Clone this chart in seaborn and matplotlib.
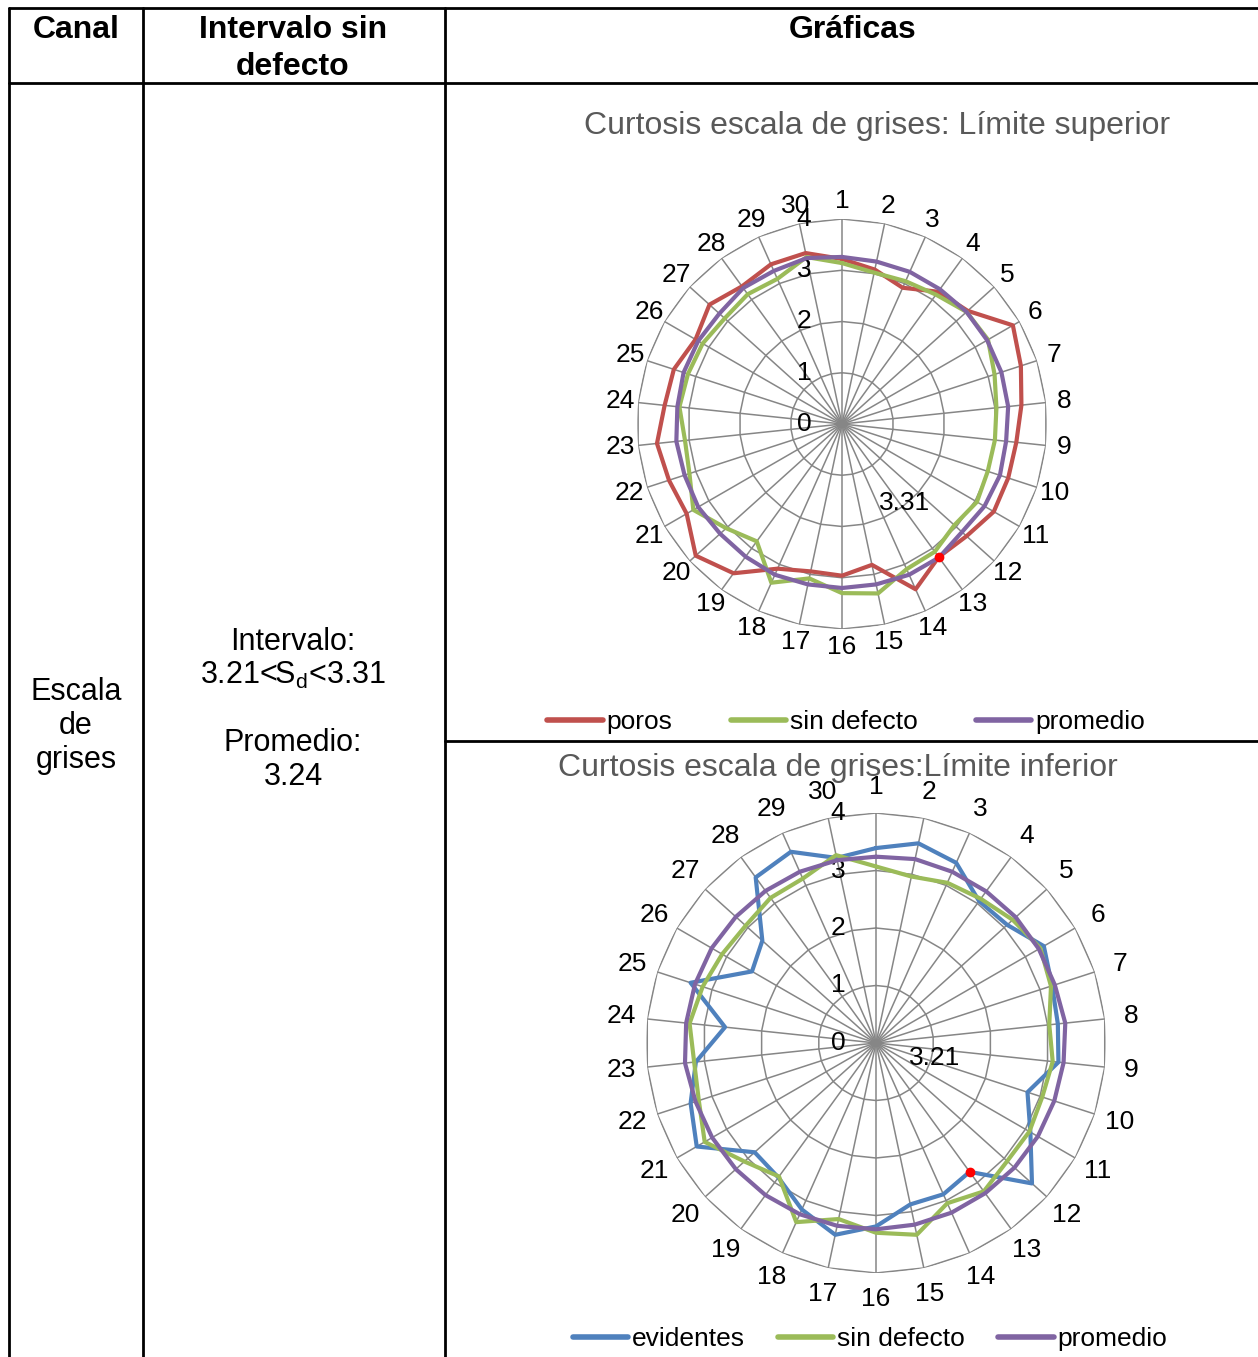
import numpy as np
import pandas as pd
import seaborn as sns
import matplotlib.pyplot as plt
from matplotlib import transforms

# -----------------------------
# Data
# -----------------------------
puntos = list(range(1, 31))

sup_poros = [3.22, 3.08, 2.91, 3.19, 3.30, 3.85, 3.67, 3.52, 3.42, 3.41,
             3.42, 3.27, 3.21, 3.53, 2.81, 2.96, 2.94, 3.09, 3.60, 3.84,
             3.50, 3.55, 3.63, 3.48, 3.45, 3.30, 3.48, 3.32, 3.41, 3.41]
sup_sin_defecto = [3.14, 3.02, 3.05, 3.12, 3.27, 3.29, 3.13, 3.03, 3.00, 2.99,
                   3.04, 2.95, 3.08, 3.10, 3.38, 3.30, 3.08, 3.39, 2.83, 3.04,
                   3.35, 3.13, 3.08, 3.19, 3.16, 3.14, 3.08, 3.13, 3.10, 3.33]
sup_promedio = [3.26, 3.24, 3.25, 3.25, 3.27, 3.27, 3.27, 3.26, 3.22, 3.24,
                3.21, 3.15, 3.22, 3.22, 3.20, 3.20, 3.20, 3.22, 3.20, 3.20,
                3.24, 3.23, 3.25, 3.23, 3.25, 3.24, 3.22, 3.28, 3.27, 3.31]

inf_evidentes = [3.39, 3.55, 3.43, 3.05, 3.07, 3.37, 3.22, 3.18, 3.19, 2.77,
                 3.10, 3.65, 2.77, 2.88, 2.87, 3.19, 3.41, 3.17, 2.89, 2.84,
                 3.60, 3.39, 3.15, 2.64, 3.39, 2.49, 2.66, 3.56, 3.64, 3.29]
inf_sin_defecto = [3.07, 2.96, 3.05, 3.10, 3.20, 3.30, 3.20, 3.03, 3.09, 3.04,
                   3.08, 3.07, 3.19, 3.05, 3.41, 3.30, 3.13, 3.41, 2.87, 3.08,
                   3.44, 3.24, 3.18, 3.26, 3.17, 3.09, 3.05, 3.12, 3.13, 3.34]
inf_promedio = [3.24, 3.27, 3.26, 3.26, 3.27, 3.27, 3.27, 3.31, 3.28, 3.26,
                3.25, 3.24, 3.23, 3.23, 3.23, 3.24, 3.25, 3.26, 3.27, 3.28,
                3.29, 3.30, 3.34, 3.32, 3.31, 3.30, 3.28, 3.27, 3.26, 3.25]

radial_ticks = [0, 1, 2, 3, 4]
marca_idx = 12  # punto 13 marcado en rojo

ROJO, VERDE, MORADO, AZUL = "#C0504D", "#9BBB59", "#8064A2", "#4F81BD"
GRIS = "#868686"

sns.set_style("white")
plt.rcParams["font.family"] = ["Liberation Sans", "DejaVu Sans"]
plt.rcParams["text.color"] = "black"
plt.rcParams["xtick.color"] = "black"
plt.rcParams["ytick.color"] = "black"

W, H = 1258, 1357
fig = plt.figure(figsize=(W / 100, H / 100), dpi=100)

# background axes in pixel coordinates for the table
bg = fig.add_axes([0, 0, 1, 1])
bg.set_xlim(0, W)
bg.set_ylim(H, 0)
bg.axis("off")

lw_tab = 2.0
for x in [9, 143, 445]:
    bg.plot([x, x], [8, H], color="black", lw=lw_tab)
bg.plot([9, W], [8, 8], color="black", lw=lw_tab)
bg.plot([9, W], [83, 83], color="black", lw=lw_tab)
bg.plot([445, W], [741, 741], color="black", lw=lw_tab)

bg.text(76, 30, "Canal", ha="center", va="center", fontsize=23, fontweight="bold")
bg.text(293, 30, "Intervalo sin", ha="center", va="center", fontsize=23, fontweight="bold")
bg.text(293, 67, "defecto", ha="center", va="center", fontsize=23, fontweight="bold")
bg.text(853, 30, "Gráficas", ha="center", va="center", fontsize=23, fontweight="bold")

for y, t in zip([692, 726, 760], ["Escala", "de", "grises"]):
    bg.text(76, y, t, ha="center", va="center", fontsize=22)
bg.text(293, 642, "Intervalo:", ha="center", va="center", fontsize=22)
bg.text(293, 675, r"3.21<S$_\mathregular{d}$<3.31", ha="center", va="center", fontsize=22)
bg.text(293, 743, "Promedio:", ha="center", va="center", fontsize=22)
bg.text(293, 777, "3.24", ha="center", va="center", fontsize=22)

bg.text(877, 126, "Curtosis escala de grises: Límite superior", ha="center", va="center",
        fontsize=23, color="#595959")
bg.text(838, 768, "Curtosis escala de grises:Límite inferior", ha="center", va="center",
        fontsize=23, color="#595959")

angles = np.deg2rad(np.arange(30) * 12.0)


def radar(cx, cy, rad, series, etiqueta_lim, lim_off, leg_xy, colspace, pad):
    ax = fig.add_axes([(cx - rad) / W, 1 - (cy + rad) / H, 2 * rad / W, 2 * rad / H],
                      projection="polar")
    ax.set_theta_zero_location("N")
    ax.set_theta_direction(-1)
    ax.set_ylim(0, 4)
    ax.grid(False)
    ax.spines["polar"].set_visible(False)
    ax.set_yticks([])
    ax.set_xticks(angles)
    ax.set_xticklabels([str(p) for p in puntos], fontsize=19)
    ax.tick_params(axis="x", pad=pad, length=0)
    ax.patch.set_alpha(0)

    # polygonal rings and spokes
    th_closed = np.append(angles, angles[0])
    for r in radial_ticks[1:]:
        ax.plot(th_closed, np.full(len(th_closed), r), color=GRIS, lw=1.1, zorder=1)
    for a in angles:
        ax.plot([a, a], [0, 4], color=GRIS, lw=1.1, zorder=1)

    off = transforms.offset_copy(ax.transData, fig=fig, x=-22, y=0, units="points")
    for r in radial_ticks:
        ax.text(0, r, str(r), transform=off, ha="right", va="center", fontsize=19)

    handles = []
    for nombre, vals, color in series:
        df = pd.DataFrame({"theta": np.append(angles, angles[0]),
                           "valor": vals + vals[:1]})
        sns.lineplot(data=df, x="theta", y="valor", sort=False, estimator=None,
                     color=color, lw=3.0, ax=ax, zorder=3, label=nombre, legend=False)
        handles.append(plt.Line2D([], [], color=color, lw=4, solid_capstyle="round"))

    first = series[0][1]
    ax.plot([angles[marca_idx]], [first[marca_idx]], "o", color="red", ms=6, zorder=5)
    ax.text(0, 0, etiqueta_lim, fontsize=19, ha="center", va="center",
            transform=transforms.offset_copy(ax.transData, fig=fig, x=lim_off[0],
                                             y=lim_off[1], units="points"))
    ax.set_xlabel("")
    ax.set_ylabel("")

    fig.legend(handles, [s[0] for s in series], loc="center",
               bbox_to_anchor=(leg_xy[0] / W, 1 - leg_xy[1] / H),
               ncol=3, frameon=False, fontsize=19, handlelength=2.1,
               handletextpad=0.15, columnspacing=colspace)
    return ax


radar(842, 424, 205,
      [("poros", sup_poros, ROJO), ("sin defecto", sup_sin_defecto, VERDE),
       ("promedio", sup_promedio, MORADO)],
      "3.31", (45, -57), (846, 722), 2.2, 6)

radar(876, 1043, 230,
      [("evidentes", inf_evidentes, AZUL), ("sin defecto", inf_sin_defecto, VERDE),
       ("promedio", inf_promedio, MORADO)],
      "3.21", (42, -11), (870, 1339), 1.25, 12)

fig.savefig("out.png", dpi=100)
